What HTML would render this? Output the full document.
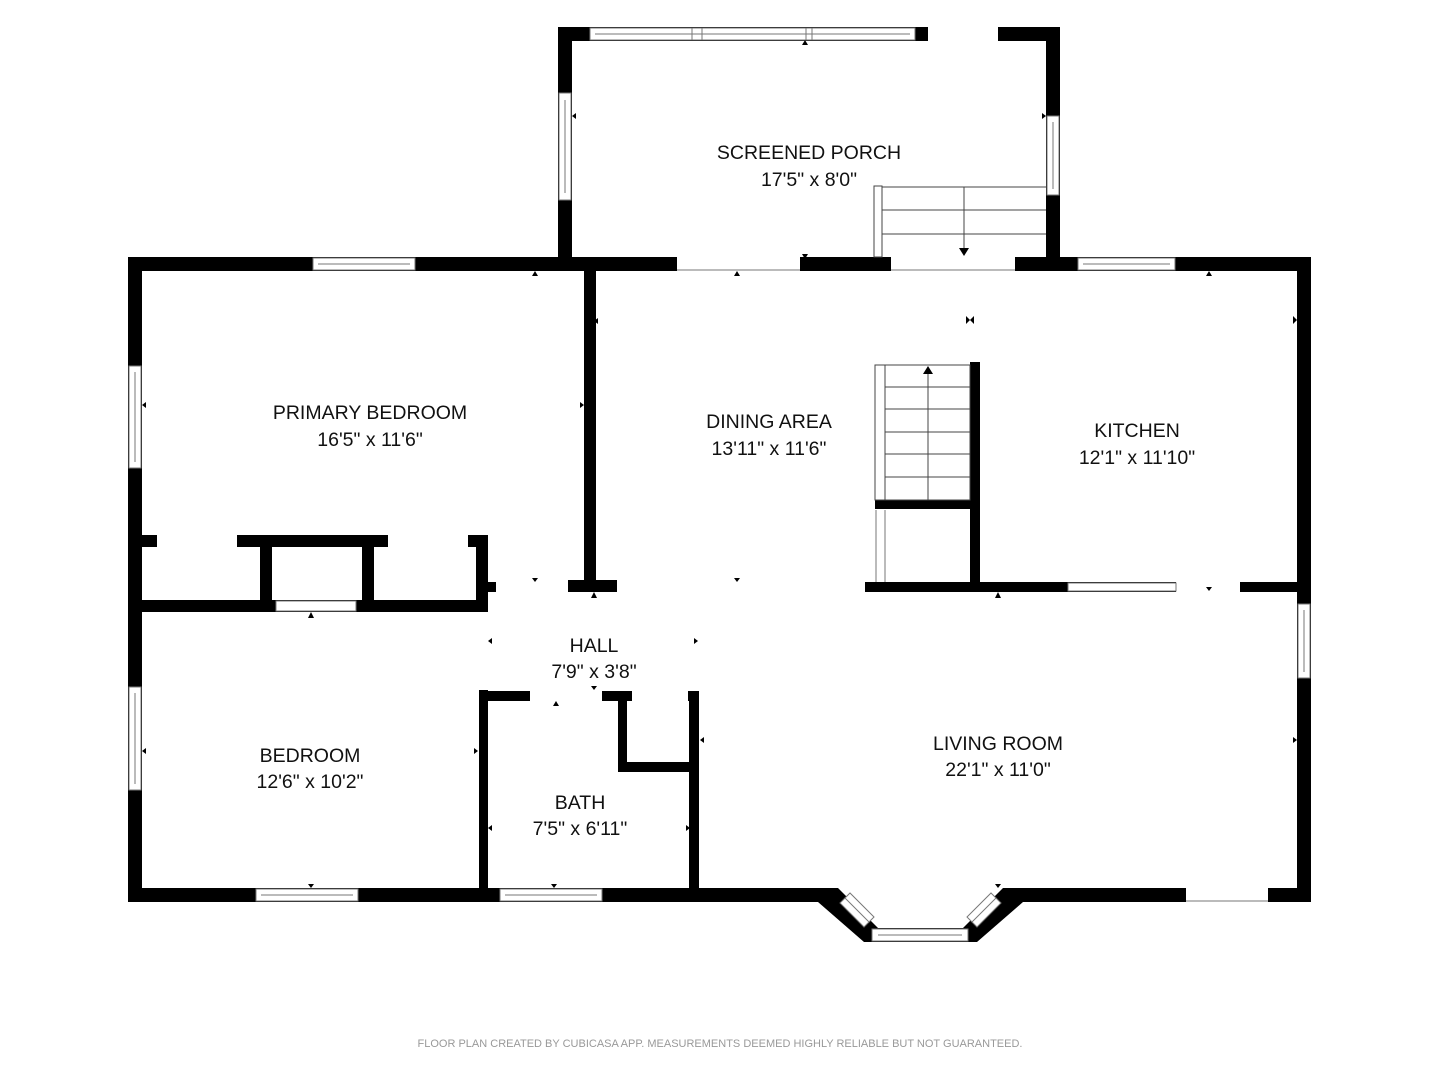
<!DOCTYPE html>
<html><head><meta charset="utf-8"><style>
html,body{margin:0;padding:0;background:#fff;width:1440px;height:1080px;overflow:hidden}
svg{display:block}
text{font-family:"Liberation Sans","DejaVu Sans",sans-serif;fill:#111}
.l{font-size:19.5px}
.w{fill:#fff;stroke:#777;stroke-width:1}
.ln{stroke:#777;stroke-width:1}
</style></head><body>
<svg width="1440" height="1080" viewBox="0 0 1440 1080">
<g fill="#000">
<rect x="558" y="27" width="14" height="244"/>
<rect x="558" y="27" width="502" height="14"/>
<rect x="1046" y="27" width="14" height="244"/>
<rect x="128" y="257" width="1183" height="14"/>
<rect x="128" y="257" width="14" height="645"/>
<rect x="1297" y="257" width="14" height="645"/>
<rect x="128" y="888" width="710" height="14"/>
<rect x="1003" y="888" width="308" height="14"/>
<polygon points="818,902 838,902 838,888 878,928 878,942 864,942"/>
<polygon points="1023,902 1003,902 1003,888 963,928 963,942 977,942"/>
<rect x="864" y="928" width="113" height="14"/>
<rect x="584" y="271" width="12" height="320"/>
<rect x="568" y="580" width="49" height="12"/>
<rect x="142" y="535" width="346" height="12"/>
<rect x="260" y="535" width="12" height="77"/>
<rect x="362" y="535" width="12" height="77"/>
<rect x="142" y="600" width="346" height="12"/>
<rect x="476" y="535" width="12" height="77"/>
<rect x="488" y="582" width="8" height="10"/>
<rect x="479" y="690" width="9" height="212"/>
<rect x="479" y="691" width="220" height="10"/>
<rect x="689" y="691" width="10" height="211"/>
<rect x="618" y="691" width="9" height="81"/>
<rect x="618" y="762" width="74" height="10"/>
<rect x="970" y="362" width="10" height="230"/>
<rect x="875" y="500" width="105" height="9"/>
<rect x="865" y="582" width="432" height="10"/>
</g>
<g fill="#fff">
<rect x="928" y="26" width="70" height="16"/>
<rect x="677" y="256" width="123" height="16"/>
<rect x="891" y="256" width="124" height="16"/>
<rect x="157" y="534" width="80" height="14"/>
<rect x="388" y="534" width="80" height="14"/>
<rect x="530" y="690" width="72" height="12"/>
<rect x="632" y="690" width="56" height="12"/>
<rect x="1176" y="581" width="64" height="12"/>
<rect x="876" y="510" width="9" height="72"/>
<rect x="1186" y="887" width="82" height="16"/>
<rect x="476" y="612" width="12" height="78"/>
</g>
<g class="ln"><line x1="677" y1="270" x2="800" y2="270"/><line x1="891" y1="270" x2="1015" y2="270"/><line x1="1186" y1="901" x2="1268" y2="901"/><line x1="876" y1="510" x2="876" y2="582"/><line x1="885" y1="510" x2="885" y2="582"/></g>
<g>
<rect class="w" x="590" y="28" width="325" height="12"/><line class="ln" x1="595" y1="34" x2="910" y2="34"/>
<line class="ln" x1="692" y1="28" x2="692" y2="40"/><line class="ln" x1="702" y1="28" x2="702" y2="40"/><line class="ln" x1="806" y1="28" x2="806" y2="40"/><line class="ln" x1="812" y1="28" x2="812" y2="40"/>
<rect class="w" x="559" y="93" width="12" height="107"/><line class="ln" x1="565" y1="100" x2="565" y2="193"/>
<rect class="w" x="1047" y="116" width="12" height="79"/><line class="ln" x1="1053" y1="122" x2="1053" y2="189"/>
<rect class="w" x="313" y="258" width="102" height="12"/><line class="ln" x1="318" y1="264" x2="410" y2="264"/>
<rect class="w" x="1078" y="258" width="97" height="12"/><line class="ln" x1="1083" y1="264" x2="1170" y2="264"/>
<rect class="w" x="129" y="366" width="12" height="102"/><line class="ln" x1="135" y1="372" x2="135" y2="462"/>
<rect class="w" x="129" y="687" width="12" height="103"/><line class="ln" x1="135" y1="693" x2="135" y2="784"/>
<rect class="w" x="1298" y="604" width="12" height="74"/><line class="ln" x1="1304" y1="610" x2="1304" y2="672"/>
<rect class="w" x="256" y="889" width="102" height="12"/><line class="ln" x1="261" y1="895" x2="353" y2="895"/>
<rect class="w" x="500" y="889" width="102" height="12"/><line class="ln" x1="505" y1="895" x2="597" y2="895"/>
<rect class="w" x="276" y="601" width="80" height="10"/>
<rect class="w" x="1068" y="583" width="108" height="8"/>
<rect class="w" x="872" y="929" width="96" height="12"/><line class="ln" x1="878" y1="935" x2="962" y2="935"/>
<polygon class="w" points="840,903 850,893 874,917 864,927"/><line class="ln" x1="845" y1="898" x2="869" y2="922"/>
<polygon class="w" points="1001,903 991,893 967,917 977,927"/><line class="ln" x1="996" y1="898" x2="972" y2="922"/>
</g>
<g fill="none" stroke="#444" stroke-width="1">
<rect x="874" y="186" width="8" height="71" fill="#fff"/>
<line x1="882" y1="187" x2="1046" y2="187"/><line x1="882" y1="210" x2="1046" y2="210"/><line x1="882" y1="234" x2="1046" y2="234"/>
<line x1="964" y1="187" x2="964" y2="250"/>
<rect x="875" y="365" width="95" height="135"/><line x1="885" y1="365" x2="885" y2="500"/>
<line x1="885" y1="387" x2="970" y2="387"/><line x1="885" y1="409" x2="970" y2="409"/><line x1="885" y1="432" x2="970" y2="432"/><line x1="885" y1="454" x2="970" y2="454"/><line x1="885" y1="477" x2="970" y2="477"/>
<line x1="928" y1="372" x2="928" y2="500"/>
</g>
<polygon points="959,248 969,248 964,256" fill="#000"/>
<polygon points="923,374 933,374 928,366" fill="#000"/>
<g fill="#000">
<polygon points="802,45 808,45 805,40"/><polygon points="802,254 808,254 805,259"/><polygon points="734,276 740,276 737,271"/>
<polygon points="532,276 538,276 535,271"/><polygon points="1206,276 1212,276 1209,271"/>
<polygon points="576,113 576,119 572,116"/><polygon points="1042,113 1042,119 1046,116"/>
<polygon points="598,318 598,324 594,321"/><polygon points="966,316 966,324 970,320"/><polygon points="974,316 974,324 970,320"/>
<polygon points="1293,316 1293,324 1297,320"/><polygon points="146,402 146,408 142,405"/><polygon points="580,402 580,408 584,405"/>
<polygon points="532,578 538,578 535,582"/><polygon points="734,578 740,578 737,582"/><polygon points="591,598 597,598 594,592"/>
<polygon points="995,598 1001,598 998,592"/><polygon points="1206,587 1212,587 1209,591"/><polygon points="308,618 314,618 311,612"/>
<polygon points="492,638 492,644 488,641"/><polygon points="694,638 694,644 698,641"/>
<polygon points="591,686 597,686 594,690"/><polygon points="553,706 559,706 556,701"/>
<polygon points="146,748 146,754 142,751"/><polygon points="474,748 474,754 478,751"/>
<polygon points="704,737 704,743 700,740"/><polygon points="1293,737 1293,743 1297,740"/>
<polygon points="492,825 492,831 488,828"/><polygon points="686,825 686,831 690,828"/>
<polygon points="308,884 314,884 311,888"/><polygon points="551,884 557,884 554,888"/><polygon points="995,884 1001,884 998,888"/>
</g>
<g class="l" text-anchor="middle">
<text x="809" y="159">SCREENED PORCH</text><text x="809" y="186">17'5" x 8'0"</text>
<text x="370" y="419">PRIMARY BEDROOM</text><text x="370" y="446">16'5" x 11'6"</text>
<text x="769" y="428">DINING AREA</text><text x="769" y="455">13'11" x 11'6"</text>
<text x="1137" y="437">KITCHEN</text><text x="1137" y="464">12'1" x 11'10"</text>
<text x="594" y="652">HALL</text><text x="594" y="678">7'9" x 3'8"</text>
<text x="310" y="762">BEDROOM</text><text x="310" y="788">12'6" x 10'2"</text>
<text x="998" y="750">LIVING ROOM</text><text x="998" y="776">22'1" x 11'0"</text>
<text x="580" y="809">BATH</text><text x="580" y="835">7'5" x 6'11"</text>
</g>
<text x="720" y="1047" text-anchor="middle" style="font-size:11px;fill:#999">FLOOR PLAN CREATED BY CUBICASA APP. MEASUREMENTS DEEMED HIGHLY RELIABLE BUT NOT GUARANTEED.</text>
</svg>
</body></html>
